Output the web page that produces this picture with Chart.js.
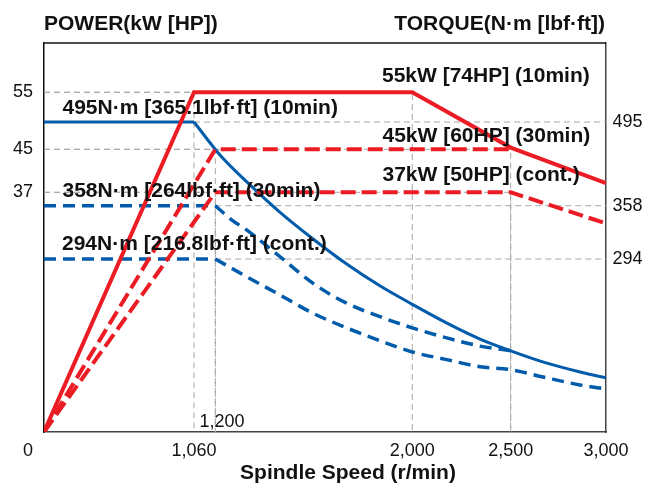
<!DOCTYPE html>
<html>
<head>
<meta charset="utf-8">
<script src="https://cdn.jsdelivr.net/npm/chart.js@4/dist/chart.umd.min.js"></script>
<style>
	html, body { margin: 0; padding: 0; background: #fff; }
	#wrap { width: 653px; height: 486px; }
</style>
</head>
<body>
<div id="wrap"><canvas id="chart" width="653" height="486"></canvas></div>
<script>
const FONT = '"Liberation Sans", Arial, Helvetica, sans-serif';
const RED = '#ec1c24';
const BLUE = '#005bab';
const GUIDE = '#a8a8a8';
const INK = '#111';

// axis ticks
const speedTicks = [1060, 2000, 2500, 3000];
const powerTicks = [37, 45, 55];
const torqueTicks = [294, 358, 495];

// power curves (kW) against spindle speed (r/min)
const power10minSpeed = [0, 1060, 2000, 2500, 3000];
const power10min = [0, 55, 55, 45.3, 38.7];
const power30minSpeed = [0, 1200, 2500];
const power30min = [0, 45, 45];
const powerContSpeed = [0, 1200, 2500, 3000];
const powerCont = [0, 37, 37, 32.2];

// torque curves (N·m): flat part, then the falling part from the corner
const torque10minFlatSpeed = [0, 1060];
const torque10minFlat = [495, 495];
const torque10minSpeed = [1060, 1219, 1341, 1463, 1597, 1735, 1870, 2000, 2176, 2344, 2500, 2690, 2864, 3000];
const torque10min = [495, 441, 392, 350, 318, 285, 248, 217, 185, 158, 138, 117, 102, 92];

const torque30minFlatSpeed = [0, 1200];
const torque30minFlat = [358, 358];
const torque30minSpeed = [1200, 1266, 1327, 1462, 1596, 1733, 1869, 2000, 2175, 2344, 2500];
const torque30min = [358, 341, 329, 297, 253, 219, 196, 177, 160, 146, 138];

const torqueContFlatSpeed = [0, 1200];
const torqueContFlat = [294, 294];
const torqueContSpeed = [1200, 1327, 1462, 1596, 1733, 1869, 2000, 2175, 2344, 2500, 2689, 2864, 3000];
const torqueCont = [294, 264, 233, 202, 177, 155, 136, 123, 111, 106, 92, 80, 73];

// corner points that get grey drop lines
const powerGuideSpeed = [1060, 2000, 1200, 2500, 1200, 2500];
const powerGuideValue = [55, 55, 45, 45, 37, 37];
const torqueGuideSpeed = [1060, 1200, 1200];
const torqueGuideValue = [495, 358, 294];

// the drawing is not to scale: each axis is split into linear pieces
const SCALE_STOPS = {
	x: { values: [0, 1060, 1200, 2000, 2500, 3000], at: [0, 0.2669, 0.3048, 0.6553, 0.8304, 1] },
	power: { values: [0, 37, 45, 55, 64], at: [0, 0.6162, 0.7267, 0.8733, 1] },
	torque: { values: [0, 294, 358, 495, 624], at: [0, 0.4447, 0.5817, 0.7969, 1] },
};

class PiecewiseScale extends Chart.LinearScale {
	getPixelForValue (value) {
		let { values, at } = SCALE_STOPS[this.id];
		let i = 1;
		while (i < values.length - 1 && value > values[i]) { i++; }
		let t = (value - values[i - 1]) / (values[i] - values[i - 1]);
		return this.getPixelForDecimal(at[i - 1] + t * (at[i] - at[i - 1]));
	}

	getValueForPixel (pixel) {
		let { values, at } = SCALE_STOPS[this.id];
		let d = this.getDecimalForPixel(pixel);
		let i = 1;
		while (i < at.length - 1 && d > at[i]) { i++; }
		let t = (d - at[i - 1]) / (at[i] - at[i - 1]);
		return values[i - 1] + t * (values[i] - values[i - 1]);
	}
}
PiecewiseScale.id = 'piecewise';
PiecewiseScale.defaults = Chart.LinearScale.defaults;
Chart.register(PiecewiseScale);

let toPoints = (xs, ys) => xs.map((x, i) => ({ x, y: ys[i] }));

let series = (data, axis, color, width, dash, smooth) => ({
	data,
	yAxisID: axis,
	borderColor: color,
	borderWidth: width,
	borderDash: dash || [],
	pointRadius: 0,
	tension: smooth ? 0.4 : 0,
	cubicInterpolationMode: smooth ? 'monotone' : 'default',
	fill: false,
});

// grey dashed drop lines, drawn under the curves
let guideLines = {
	id: 'guideLines',
	beforeDatasetsDraw (chart) {
		let { ctx, chartArea, scales } = chart;
		let { x, power, torque } = scales;
		ctx.save();
		ctx.strokeStyle = GUIDE;
		ctx.lineWidth = 1;
		ctx.setLineDash([6, 4]);
		powerGuideSpeed.forEach((s, i) => {
			let px = x.getPixelForValue(s);
			let py = power.getPixelForValue(powerGuideValue[i]);
			ctx.beginPath();
			ctx.moveTo(chartArea.left, py);
			ctx.lineTo(px, py);
			ctx.lineTo(px, chartArea.bottom);
			ctx.stroke();
		});
		torqueGuideSpeed.forEach((s, i) => {
			let px = x.getPixelForValue(s);
			let py = torque.getPixelForValue(torqueGuideValue[i]);
			ctx.beginPath();
			ctx.moveTo(px, py);
			ctx.lineTo(chartArea.right, py);
			ctx.stroke();
		});
		ctx.restore();
	},
};

// titles, curve labels and the loose tick labels
let annotations = {
	id: 'annotations',
	afterDatasetsDraw (chart) {
		let { ctx, chartArea } = chart;
		ctx.save();
		ctx.fillStyle = INK;
		ctx.textBaseline = 'alphabetic';

		ctx.font = 'bold 21px ' + FONT;
		ctx.textAlign = 'left';
		ctx.fillText('495N·m [365.1lbf·ft] (10min)', 62.5, 113.5);
		ctx.fillText('358N·m [264lbf·ft] (30min)', 62.5, 197);
		ctx.fillText('294N·m [216.8lbf·ft] (cont.)', 62, 249.5);
		ctx.fillText('55kW [74HP] (10min)', 382, 81.5);
		ctx.fillText('45kW [60HP] (30min)', 382.5, 141.5);
		ctx.fillText('37kW [50HP] (cont.)', 382.5, 180.5);

		ctx.fillText('POWER(kW [HP])', chartArea.left, 30);
		ctx.textAlign = 'right';
		ctx.fillText('TORQUE(N·m [lbf·ft])', 605, 30);
		ctx.textAlign = 'center';
		ctx.fillText('Spindle Speed (r/min)', 348, 479);

		ctx.font = '18px ' + FONT;
		ctx.fillText('0', 28, 456);
		ctx.textAlign = 'left';
		ctx.fillText('1,200', 199.5, 426.5);

		// top edge of the frame
		ctx.strokeStyle = INK;
		ctx.lineWidth = 1.5;
		ctx.beginPath();
		ctx.moveTo(chartArea.left, chartArea.top);
		ctx.lineTo(chartArea.right, chartArea.top);
		ctx.stroke();
		ctx.restore();
	},
};

let tickFont = { family: FONT, size: 18 };
let dashRed = [15, 6];
let dashBlue = [12, 7];

new Chart(document.getElementById('chart'), {
	type: 'line',
	data: {
		datasets: [
			series(toPoints(power10minSpeed, power10min), 'power', RED, 4),
			series(toPoints(power30minSpeed, power30min), 'power', RED, 4, dashRed),
			series(toPoints(powerContSpeed, powerCont), 'power', RED, 4, dashRed),
			series(toPoints(torque10minFlatSpeed, torque10minFlat), 'torque', BLUE, 3),
			series(toPoints(torque10minSpeed, torque10min), 'torque', BLUE, 3, null, true),
			series(toPoints(torque30minFlatSpeed, torque30minFlat), 'torque', BLUE, 3.5, dashBlue),
			series(toPoints(torque30minSpeed, torque30min), 'torque', BLUE, 3.5, dashBlue, true),
			series(toPoints(torqueContFlatSpeed, torqueContFlat), 'torque', BLUE, 3.5, dashBlue),
			series(toPoints(torqueContSpeed, torqueCont), 'torque', BLUE, 3.5, dashBlue, true),
		],
	},
	options: {
		responsive: false,
		animation: false,
		layout: { padding: { top: 43, left: 0, right: 0, bottom: 0 } },
		plugins: {
			legend: { display: false },
			tooltip: { enabled: false },
		},
		scales: {
			x: {
				type: 'piecewise',
				position: 'bottom',
				min: 0,
				max: 3000,
				grid: { display: false, drawTicks: false },
				border: { display: true, color: '#444', width: 1.5 },
				ticks: {
					autoSkip: false,
					maxRotation: 0,
					padding: 8,
					color: INK,
					font: tickFont,
					callback: (v) => v.toLocaleString('en-US'),
				},
				afterBuildTicks: (s) => { s.ticks = speedTicks.map(v => ({ value: v })); },
				afterFit: (s) => { s.height = 54; },
			},
			power: {
				type: 'piecewise',
				position: 'left',
				min: 0,
				max: 64,
				grid: { display: false, drawTicks: false },
				border: { display: true, color: INK, width: 1.5 },
				ticks: { autoSkip: false, padding: 11, color: INK, font: tickFont },
				afterBuildTicks: (s) => { s.ticks = powerTicks.map(v => ({ value: v })); },
				afterFit: (s) => { s.width = 44; },
			},
			torque: {
				type: 'piecewise',
				position: 'right',
				min: 0,
				max: 624,
				grid: { display: false, drawTicks: false },
				border: { display: true, color: '#444', width: 1.5 },
				ticks: { autoSkip: false, padding: 6.5, color: INK, font: tickFont },
				afterBuildTicks: (s) => { s.ticks = torqueTicks.map(v => ({ value: v })); },
				afterFit: (s) => { s.width = 47; },
			},
		},
	},
	plugins: [ guideLines, annotations ],
});
</script>
</body>
</html>
